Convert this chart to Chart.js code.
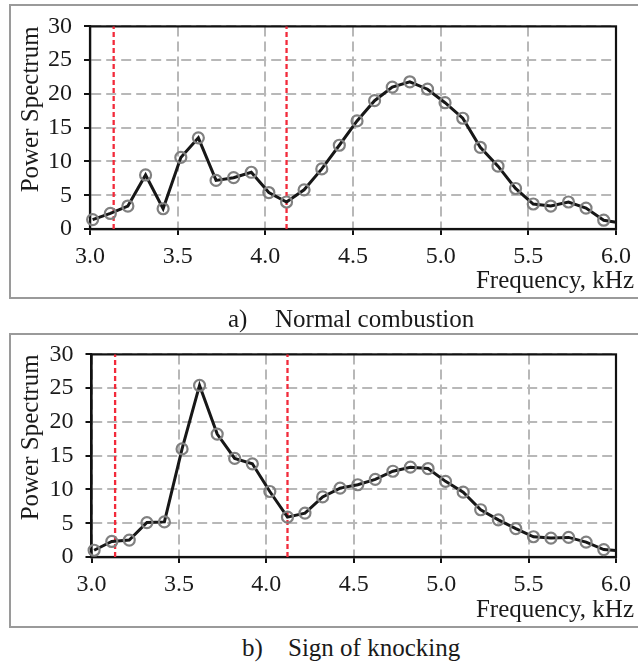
<!DOCTYPE html>
<html>
<head>
<meta charset="utf-8">
<script src="https://cdn.jsdelivr.net/npm/chart.js@4.4.1/dist/chart.umd.min.js"></script>
<style>
  html, body { margin: 0; padding: 0; background: #fff; }
  body { width: 638px; height: 666px; position: relative; overflow: hidden;
         font-family: "Liberation Serif", "Times New Roman", serif; color: #1a1a1a; }
  .box { position: absolute; left: 9px; width: 700px; height: 295px; box-sizing: border-box;
         border: 2px solid #9a9a9a; border-right: none; }
  canvas { position: absolute; left: 0; }
  .txt { position: absolute; font-size: 25px; line-height: 25px; white-space: nowrap; }
</style>
</head>
<body>
<div class="box" style="top:4px"></div>
<div class="box" style="top:333px"></div>

<canvas id="chartA" width="638" height="275" style="top:0px"></canvas>
<canvas id="chartB" width="638" height="275" style="top:328px"></canvas>

<div class="txt" style="top:267px; right:4px">Frequency, kHz</div>
<div class="txt" style="top:306px; left:228px">a)</div>
<div class="txt" style="top:306px; left:275px">Normal combustion</div>

<div class="txt" style="top:596px; right:4px">Frequency, kHz</div>
<div class="txt" style="top:635px; left:242px">b)</div>
<div class="txt" style="top:635px; left:288px">Sign of knocking</div>

<script>
// frequency bins (kHz); last entry is where the curve meets the right edge (no marker)
const freqKHz = [3.015, 3.116, 3.216, 3.317, 3.417, 3.518, 3.618, 3.719, 3.819, 3.92,
                 4.02, 4.121, 4.221, 4.322, 4.422, 4.523, 4.623, 4.724, 4.824, 4.925,
                 5.025, 5.126, 5.226, 5.327, 5.427, 5.528, 5.628, 5.729, 5.829, 5.93, 6.0];

// a) normal combustion
const normalPower = [1.4, 2.3, 3.4, 8.0, 3.0, 10.6, 13.5, 7.2, 7.6, 8.4,
                     5.4, 4.0, 5.8, 8.9, 12.4, 16.0, 19.0, 21.0, 21.8, 20.7,
                     18.7, 16.4, 12.1, 9.3, 6.0, 3.7, 3.4, 4.0, 3.1, 1.3, 1.0];

// b) sign of knocking
const knockPower = [1.0, 2.3, 2.5, 5.1, 5.2, 16.0, 25.4, 18.2, 14.6, 13.8,
                    9.7, 5.9, 6.5, 8.9, 10.2, 10.7, 11.5, 12.7, 13.3, 13.1,
                    11.2, 9.6, 7.0, 5.5, 4.2, 3.0, 2.8, 2.9, 2.2, 1.1, 0.95];

// red dashed band limits (kHz)
const bandLimits = [3.135, 4.121];

const xTicks = { min: 3, max: 6, step: 0.5 };
const yTicks = { min: 0, max: 30, step: 5 };

const FONT = '"Liberation Serif", "Times New Roman", serif';

const plotFrame = {
  id: 'plotFrame',
  beforeDatasetsDraw(chart) {
    const { ctx, chartArea: a } = chart;
    ctx.save();
    ctx.strokeStyle = '#111';
    ctx.lineWidth = 2.2;
    ctx.strokeRect(a.left, a.top, a.right - a.left, a.bottom - a.top);
    ctx.restore();
  }
};

const makeChart = (id, power, yWidth) => {
  const datasets = [{
    data: freqKHz.map((f, i) => ({ x: f, y: power[i] })),
    borderColor: '#171717',
    borderWidth: 3,
    tension: 0,
    pointRadius: ctx => (ctx.dataIndex < freqKHz.length - 1 ? 5.5 : 0),
    pointBorderWidth: 2.2,
    pointBorderColor: '#808080',
    pointBackgroundColor: 'rgba(0,0,0,0)',
    order: 1,
  }];
  bandLimits.forEach(f => {
    datasets.push({
      data: [{ x: f, y: yTicks.min }, { x: f, y: yTicks.max }],
      borderColor: '#f22a3a',
      borderWidth: 2.3,
      borderDash: [5, 3],
      pointRadius: 0,
      order: 2,
    });
  });

  const gridOpts = {
    color: '#b8b8b8', lineWidth: 2, tickLength: 6,
    tickColor: '#111', tickWidth: 2, tickBorderDash: [],
  };
  const borderOpts = { display: true, color: '#111', width: 2.2, dash: [10, 5] };

  new Chart(document.getElementById(id).getContext('2d'), {
    type: 'line',
    data: { datasets },
    plugins: [plotFrame],
    options: {
      responsive: false,
      animation: false,
      devicePixelRatio: 1,
      clip: false,
      layout: { padding: { top: 19, right: 18, left: 0, bottom: 0 } },
      plugins: { legend: { display: false }, tooltip: { enabled: false } },
      scales: {
        x: {
          type: 'linear',
          min: xTicks.min,
          max: xTicks.max,
          afterFit: s => { s.height = 46; },
          border: borderOpts,
          grid: gridOpts,
          ticks: {
            stepSize: xTicks.step, autoSkip: false, maxRotation: 0, padding: 7,
            color: '#1a1a1a', font: { family: FONT, size: 24 },
            callback: v => v.toFixed(1),
          },
        },
        y: {
          min: yTicks.min,
          max: yTicks.max,
          afterFit: s => { s.width = yWidth; },
          border: borderOpts,
          grid: gridOpts,
          ticks: {
            stepSize: yTicks.step, padding: 12,
            color: '#1a1a1a', font: { family: FONT, size: 24 },
          },
          title: {
            display: true, text: 'Power Spectrum', align: 'end',
            color: '#1a1a1a', font: { family: FONT, size: 25 },
            padding: { top: 16, bottom: 0 },
          },
        },
      },
    },
  });
};

makeChart('chartA', normalPower, 90);
makeChart('chartB', knockPower, 91.5);
</script>
</body>
</html>
